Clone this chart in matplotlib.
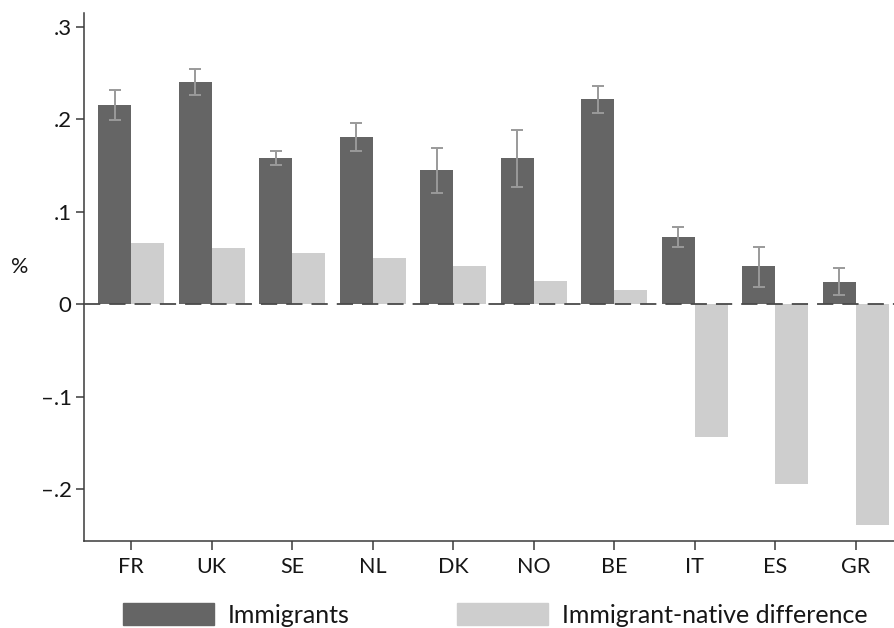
import matplotlib
matplotlib.use("Agg")
import matplotlib.pyplot as plt
from matplotlib.patches import Patch
import numpy as np

plt.rcParams["font.family"] = ["Lato", "DejaVu Sans"]

countries = ["FR", "UK", "SE", "NL", "DK", "NO", "BE", "IT", "ES", "GR"]
immigrants = [0.2155, 0.240, 0.158, 0.181, 0.145, 0.158, 0.222, 0.073, 0.041, 0.024]
imm_low = [0.199, 0.226, 0.150, 0.165, 0.120, 0.127, 0.207, 0.062, 0.019, 0.010]
imm_high = [0.231, 0.254, 0.165, 0.196, 0.169, 0.188, 0.236, 0.083, 0.062, 0.039]
difference = [0.066, 0.061, 0.0555, 0.050, 0.041, 0.025, 0.0155, -0.144, -0.194, -0.239]

yticks = [-0.2, -0.1, 0, 0.1, 0.2, 0.3]
ytick_labels = ["\u2013.2", "\u2013.1", "0", ".1", ".2", ".3"]

dark = "#656565"
light = "#cecece"
axis_col = "#3a3a3a"
text_col = "#161616"

fig = plt.figure(figsize=(8.94, 6.28), dpi=100)
ax = fig.add_axes([0.094, 0.1385, 0.906, 0.8413])

x = np.arange(len(countries))
w = 0.41
imm = np.array(immigrants)
ax.bar(x - w / 2, imm, w, color=dark, zorder=2)
ax.bar(x + w / 2, difference, w, color=light, zorder=2)
ax.errorbar(x - w / 2, imm,
            yerr=[imm - np.array(imm_low), np.array(imm_high) - imm],
            fmt="none", ecolor="#9a9a9a", elinewidth=1.4, capsize=4.4,
            capthick=1.4, zorder=3)

# dashed zero reference line over the bars
ax.axhline(0, color="#4a4a4a", lw=1.3, ls=(0, (9, 5)), zorder=4)

ax.set_xlim(-0.584, 9.478)
ax.set_ylim(-0.256, 0.315)
ax.set_xticks(x, countries)
ax.set_yticks(yticks, ytick_labels)

for s in ["top", "right"]:
    ax.spines[s].set_visible(False)
for s in ["left", "bottom"]:
    ax.spines[s].set_color(axis_col)
    ax.spines[s].set_linewidth(1.1)
ax.tick_params(axis="y", length=6, width=1.1, color=axis_col, labelsize=16,
               pad=3, labelcolor=text_col)
ax.tick_params(axis="x", length=6.5, width=1.1, color=axis_col, labelsize=15.5,
               pad=5, labelcolor=text_col)

ax.set_ylabel("%", rotation=0, fontsize=15.5, color=text_col)
ax.yaxis.set_label_coords(-0.079, 0.5)

handles = [Patch(color=dark, label="Immigrants"),
           Patch(color=light, label="Immigrant-native difference")]
fig.legend(handles=handles, loc="center left",
           bbox_to_anchor=(123 / 894, 1 - 615 / 628), ncol=2, frameon=False,
           fontsize=18, handlelength=3.64, handleheight=0.96,
           handletextpad=0.56, columnspacing=4.3, borderpad=0,
           borderaxespad=0, labelcolor=text_col)

fig.savefig("out.png", dpi=100)
